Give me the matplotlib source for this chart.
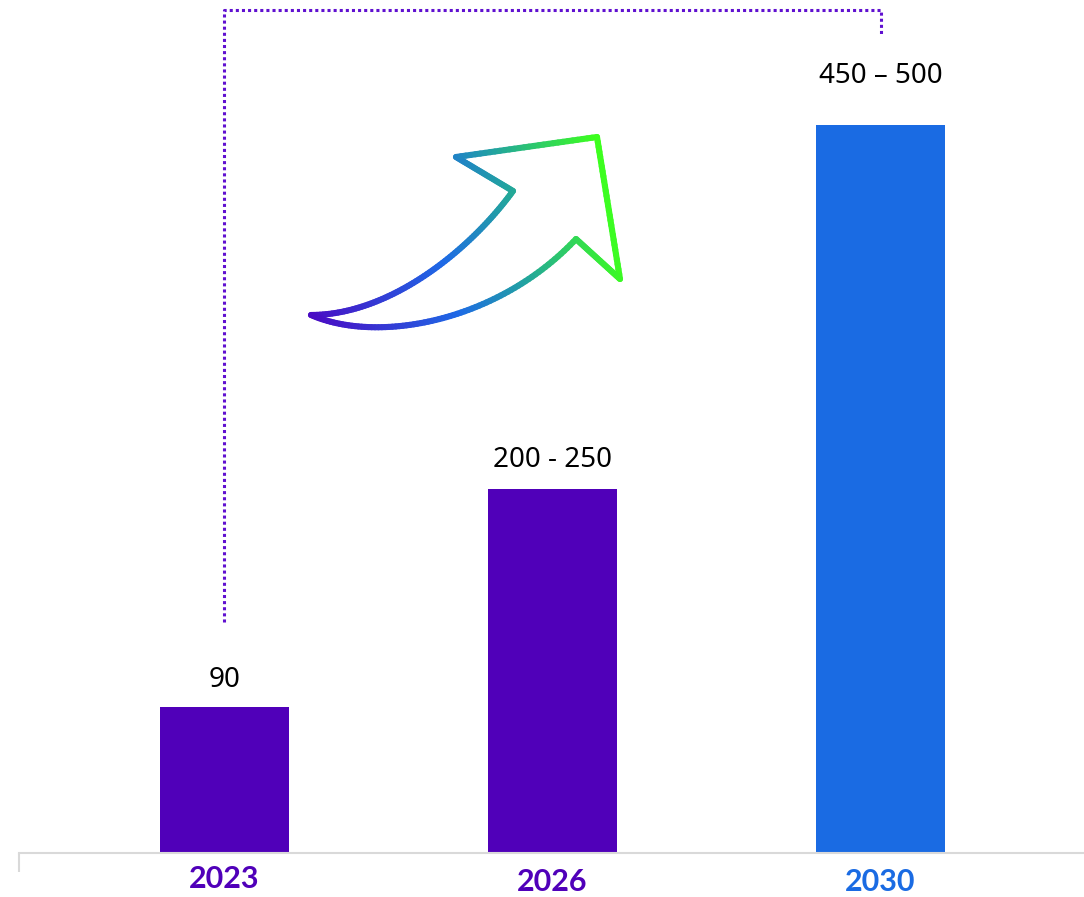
import numpy as np
import matplotlib
matplotlib.use("Agg")
import matplotlib.pyplot as plt
from matplotlib.collections import LineCollection
from matplotlib.colors import LinearSegmentedColormap

# ---- data ----
years = ["2023", "2026", "2030"]
values = [90, 225, 450]
value_labels = ["90", "200 - 250", "450 \u2013 500"]
bar_colors = ["#5000B9", "#5000B9", "#1A6BE3"]
year_colors = ["#5000B9", "#5000B9", "#1A6BE3"]
label_offsets_pt = [14.4, 16.3, 30.7]      # gap bar top -> label baseline
year_offsets_pt = [25.2, 27.7, 27.7]       # gap axis -> year baseline

W, H = 1084, 897
fig = plt.figure(figsize=(W / 100, H / 100), dpi=100)
ax = fig.add_axes([19 / W, 44 / H, 1065 / W, 853 / H])

x = np.arange(len(years))
ax.bar(x, values, width=0.393, color=bar_colors, zorder=2)
ax.set_xlim(-0.6265, 2.6204)
ax.set_ylim(0, 527.5)

for s in ["top", "right", "left"]:
    ax.spines[s].set_visible(False)
ax.spines["bottom"].set_color("#D9D9D9")
ax.spines["bottom"].set_linewidth(1.5)
ax.set_xticks([])
ax.set_yticks([])
# small left tick below axis
ax.plot([0, 0], [0, -19 / 853], transform=ax.transAxes, color="#D9D9D9",
        lw=1.5, clip_on=False, solid_capstyle="butt")

value_font = ["Noto Sans", "DejaVu Sans"]
for xi, v, lab, off in zip(x, values, value_labels, label_offsets_pt):
    ax.annotate(lab, xy=(xi, v), xytext=(0, off), textcoords="offset points",
                ha="center", va="baseline", fontsize=20, color="black",
                family=value_font)

for xi, yr, c, off in zip(x, years, year_colors, year_offsets_pt):
    ax.annotate(yr, xy=(xi, 0), xycoords=("data", "axes fraction"),
                xytext=(0, -off), textcoords="offset points", ha="center",
                va="baseline", fontsize=22, fontweight="bold", color=c,
                family=["Lato", "DejaVu Sans"], annotation_clip=False)

# ---- dotted bracket from 2023 to 2030 ----
bt = ax.get_xaxis_transform()
ax.plot([x[0], x[0], x[2], x[2]], [0.2708, 0.988, 0.988, 0.959],
        transform=bt, color="#6010D0", lw=2.2, linestyle=(0, (1, 1)),
        clip_on=False, solid_capstyle="butt", dash_capstyle="butt")

# ---- gradient arrow outline (decoration, figure pixel coords) ----
def bez(p0, p1, p2, p3, n=80):
    t = np.linspace(0, 1, n)[:, None]
    p0, p1, p2, p3 = map(np.array, (p0, p1, p2, p3))
    return ((1 - t) ** 3) * p0 + 3 * ((1 - t) ** 2) * t * p1 + 3 * (1 - t) * t ** 2 * p2 + t ** 3 * p3

upper = bez((311, 315), (390, 315), (470, 250), (513, 191))
head = np.array([(513, 191), (456, 157), (597, 137), (620, 279), (576, 239)], float)
head_pts = []
for a, b in zip(head[:-1], head[1:]):
    t = np.linspace(0, 1, 30)[:, None]
    head_pts.append(a + (b - a) * t)
head_pts = np.vstack(head_pts)
lower = bez((576, 239), (500, 320), (380, 345), (311, 315))
pts = np.vstack([upper, head_pts, lower])

proj = pts[:, 0] - 0.2 * pts[:, 1]
norm = (proj - 248) / (570 - 248)
cmap = LinearSegmentedColormap.from_list(
    "arr", [(0, "#4A0CC4"), (0.45, "#1E6AE6"), (0.68, "#22A3A0"), (1.0, "#3DFF1E")])
figpts = np.column_stack([pts[:, 0] / W, 1 - pts[:, 1] / H])
segs = np.stack([figpts[:-1], figpts[1:]], axis=1)
segc = cmap(np.clip((norm[:-1] + norm[1:]) / 2, 0, 1))
lc = LineCollection(segs, colors=segc, linewidths=4.4, transform=fig.transFigure,
                    capstyle="round", joinstyle="round")
fig.add_artist(lc)

fig.savefig("out.png", dpi=100, facecolor="white")
